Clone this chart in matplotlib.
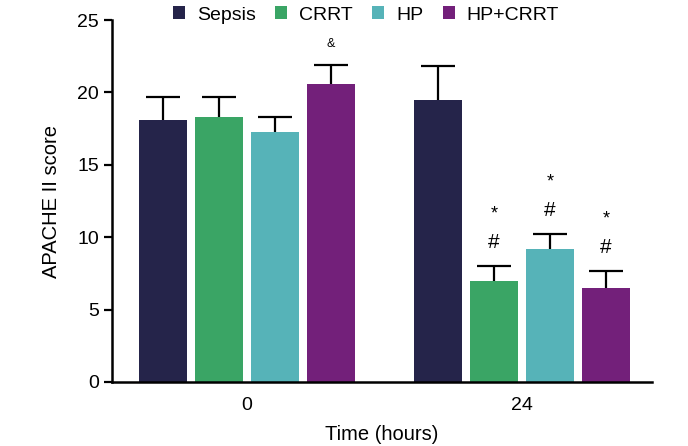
import numpy as np
import matplotlib
matplotlib.use("Agg")
import matplotlib.pyplot as plt

plt.rcParams['font.family'] = ['Liberation Sans', 'DejaVu Sans']

# data
times = ['0', '24']
groups = ['Sepsis', 'CRRT', 'HP', 'HP+CRRT']
colors = ['#25244a', '#3aa565', '#56b3b8', '#73207a']
means = {
    'Sepsis': [18.1, 19.5],
    'CRRT': [18.3, 7.0],
    'HP': [17.3, 9.2],
    'HP+CRRT': [20.6, 6.5],
}
errs = {
    'Sepsis': [1.6, 2.3],
    'CRRT': [1.4, 1.0],
    'HP': [1.0, 1.0],
    'HP+CRRT': [1.3, 1.15],
}
# significance marks: (group, time index, text)
marks = [('HP+CRRT', 0, '&'),
         ('CRRT', 1, '#*'), ('HP', 1, '#*'), ('HP+CRRT', 1, '#*')]

fig = plt.figure(figsize=(6.88, 4.46), dpi=100)
ax = fig.add_axes([0.163, 0.1435, 0.785, 0.8115])

x = np.arange(len(times))
step = 0.2036
width = 0.1745
for i, g in enumerate(groups):
    pos = x + (i - 1.5) * step
    ax.bar(pos, means[g], width, color=colors[i], label=g, zorder=2)
    eb = ax.errorbar(pos, means[g], yerr=[np.zeros(2), errs[g]], fmt='none',
                     ecolor='black', elinewidth=1.6, capsize=12, capthick=1.6, zorder=3)
    # only the upper cap is drawn
    eb[1][0].set_visible(False)

for g, t, txt in marks:
    i = groups.index(g)
    xp = x[t] + (i - 1.5) * step
    top = means[g][t] + errs[g][t]
    if txt == '&':
        ax.text(xp, top + 1.0, txt, ha='center', va='bottom', fontsize=9)
    else:
        ax.text(xp, top + 1.0, '#', ha='center', va='bottom', fontsize=15)
        ax.text(xp, top + 3.0, '*', ha='center', va='bottom', fontsize=13)

ax.set_xlim(-0.491, 1.473)
ax.set_ylim(0, 25)
ax.set_yticks([0, 5, 10, 15, 20, 25])
ax.set_xticks(x)
ax.set_xticklabels(times)
ax.tick_params(axis='both', labelsize=14, width=1.6, length=6)
ax.tick_params(axis='x', length=0, pad=11)
for s in ['top', 'right']:
    ax.spines[s].set_visible(False)
for s in ['left', 'bottom']:
    ax.spines[s].set_linewidth(1.8)
ax.set_ylabel('APACHE II score', fontsize=14.5, labelpad=12)
ax.set_xlabel('Time (hours)', fontsize=14.5, labelpad=8)

ax.legend(loc='center', bbox_to_anchor=(0.47, 1.014), ncol=4, frameon=False,
          fontsize=14, handlelength=0.62, handleheight=0.62, columnspacing=1.0,
          handletextpad=0.6, borderpad=0)

fig.savefig('out.png', dpi=100)
